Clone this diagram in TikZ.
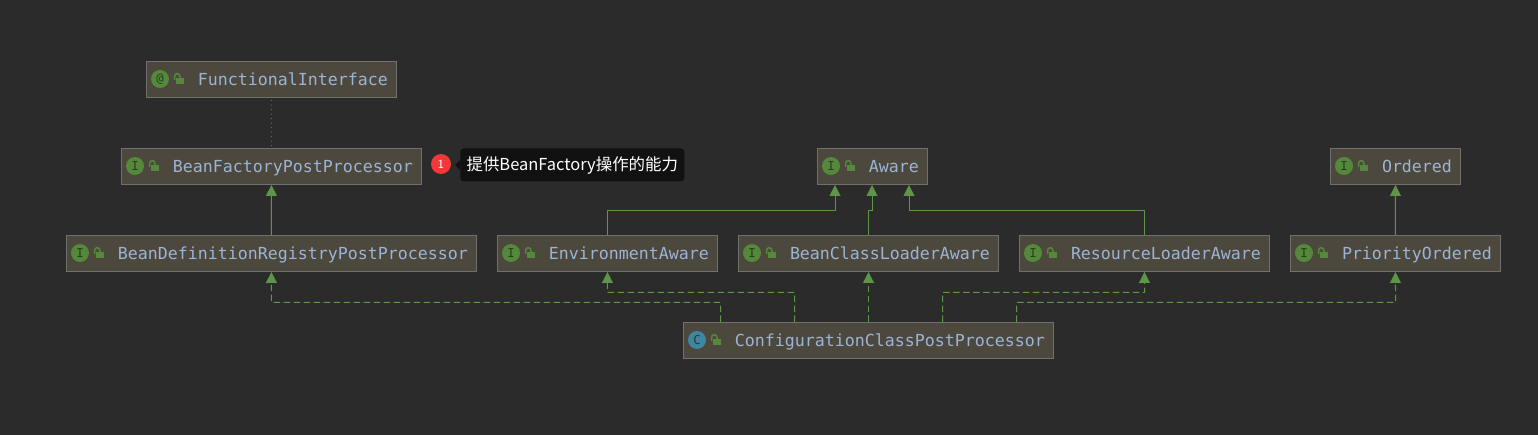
\documentclass[tikz,border=0pt]{standalone}
\usepackage{fontspec}
\newfontfamily\codefont{DejaVu Sans Mono}
\newfontfamily\cjkfont{Noto Sans CJK SC}
\usepackage{tikz}
\usetikzlibrary{arrows.meta, shapes}
\definecolor{canvasgray}{RGB}{43, 43, 43}
\definecolor{boxfill}{RGB}{77, 72, 61}
\definecolor{boxline}{RGB}{112, 112, 108}
\definecolor{codeblue}{RGB}{155, 180, 214}
\definecolor{edgegreen}{RGB}{92, 150, 70}
\definecolor{icongreen}{RGB}{84, 136, 58}
\definecolor{iconblue}{RGB}{62, 134, 163}
\definecolor{icondark}{RGB}{40, 62, 34}
\definecolor{dotolive}{RGB}{105, 105, 75}
\definecolor{tipblack}{RGB}{17, 17, 17}
\definecolor{badgered}{RGB}{245, 55, 55}

\begin{document}
\begin{tikzpicture}[
  x=0.02cm, y=-0.02cm,
  umlbox/.style={draw=boxline, fill=boxfill, line width=0.02cm, anchor=west, inner xsep=0.17cm, inner ysep=0pt, minimum height=0.72cm, text height=0.29cm, text depth=0.05cm, text=codeblue, font=\codefont\fontsize{9.45}{11}\selectfont, execute at begin node={\hspace*{0.86cm}}},
  umlicon/.style={circle, fill=icongreen, minimum size=0.36cm, inner sep=0pt, text=icondark, font=\codefont\fontsize{7}{8}\selectfont},
  extends/.style={draw=edgegreen, line width=0.02cm, -{Triangle[width=0.22cm, length=0.22cm, fill=edgegreen]}},
  implements/.style={extends, dash pattern=on 0.13cm off 0.07cm},
  lockicon/.pic={
    \fill[icongreen] (30,-1) rectangle (38,5);
    \draw[icongreen, line width=0.03cm] (28.5,1) -- (28.5,-2) .. controls (28.5,-6.5) and (34,-6.5) .. (34,-2) -- (34,-1);
  }
]
  \useasboundingbox[fill=canvasgray] (0,0) rectangle (1538,435);

  % class boxes
  \node[umlbox] (funcif) at (146,79.5) {FunctionalInterface};
  \node[umlbox] (bfpp) at (121,166.5) {BeanFactoryPostProcessor};
  \node[umlbox] (aware) at (817,166.5) {Aware};
  \node[umlbox] (ordered) at (1330,166.5) {Ordered};
  \node[umlbox] (bdrpp) at (66,253.5) {BeanDefinitionRegistryPostProcessor};
  \node[umlbox] (envaware) at (497,253.5) {EnvironmentAware};
  \node[umlbox] (beanaware) at (738,253.5) {BeanClassLoaderAware};
  \node[umlbox] (resaware) at (1019,253.5) {ResourceLoaderAware};
  \node[umlbox] (priority) at (1290,253.5) {PriorityOrdered};
  \node[umlbox] (ccpp) at (683,340.5) {ConfigurationClassPostProcessor};

  % icons
  \node[umlicon] (funcif-icon) at (160,79) {@};
  \node[umlicon] (bfpp-icon) at (135,166) {I};
  \node[umlicon] (aware-icon) at (831,166) {I};
  \node[umlicon] (ordered-icon) at (1344,166) {I};
  \node[umlicon] (bdrpp-icon) at (80,253) {I};
  \node[umlicon] (envaware-icon) at (511,253) {I};
  \node[umlicon] (beanaware-icon) at (752,253) {I};
  \node[umlicon] (resaware-icon) at (1033,253) {I};
  \node[umlicon] (priority-icon) at (1304,253) {I};
  \node[umlicon, fill=iconblue] (ccpp-icon) at (697,340) {C};
  \pic at (146,79) {lockicon};
  \pic at (121,166) {lockicon};
  \pic at (817,166) {lockicon};
  \pic at (1330,166) {lockicon};
  \pic at (66,253) {lockicon};
  \pic at (497,253) {lockicon};
  \pic at (738,253) {lockicon};
  \pic at (1019,253) {lockicon};
  \pic at (1290,253) {lockicon};
  \pic at (683,340) {lockicon};

  % note
  \node[circle, fill=badgered, minimum size=0.4cm, inner sep=0pt, text=white, font=\fontsize{7}{8}\sffamily] (badge) at (441,164) {1};
  \node[fill=tipblack, rounded corners=2pt, anchor=west, minimum width=4.48cm, minimum height=0.66cm, inner sep=0pt, text=white, font=\cjkfont\fontsize{9.37}{11}\selectfont] (tip) at (460,165) {提供BeanFactory操作的能力};
  \fill[tipblack] (455,165) -- (460,160) -- (460,170) -- cycle;

  % ends on the boxes
  \coordinate (aware-l) at (835,185);
  \coordinate (aware-m) at (872,185);
  \coordinate (aware-r) at (909,185);
  \coordinate (ccpp-a) at (720.5,322);
  \coordinate (ccpp-b) at (794.5,322);
  \coordinate (ccpp-c) at (868.5,322);
  \coordinate (ccpp-d) at (942.5,322);
  \coordinate (ccpp-e) at (1016.5,322);

  % connectors
  \draw[dotolive, line width=0.02cm, dotted, shorten >=0.04cm, shorten <=0.04cm] (funcif) -- (bfpp);
  \draw[extends] (bdrpp.north) -- (bfpp.south);
  \draw[extends] (priority.north) -- (ordered.south);
  \draw[extends] (envaware.north) |- (835,210.5) -- (aware-l);
  \draw[extends] (beanaware.north) -- (beanaware.north |- 0,210.5) -| (aware-m);
  \draw[extends] (resaware.north) |- (909,210.5) -- (aware-r);
  \draw[implements] (ccpp-a) |- (271.5,302.5) -- (bdrpp.south);
  \draw[implements] (ccpp-b) |- (607.5,292.5) -- (envaware.south);
  \draw[implements] (ccpp-c) -- (beanaware.south -| ccpp-c);
  \draw[implements] (ccpp-d) |- (1144.5,292.5) -- (resaware.south);
  \draw[implements] (ccpp-e) |- (1395.5,302.5) -- (priority.south);
\end{tikzpicture}
\end{document}
